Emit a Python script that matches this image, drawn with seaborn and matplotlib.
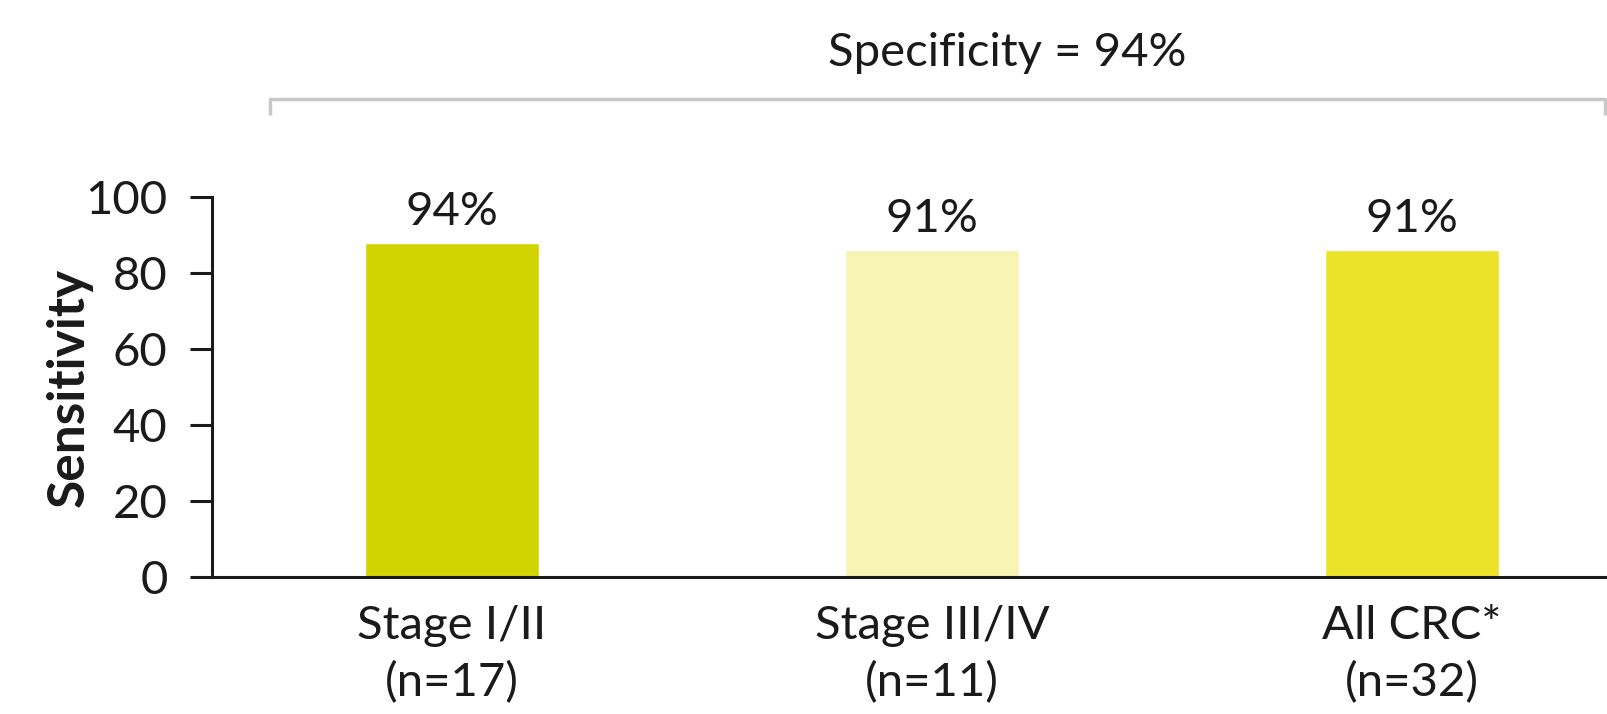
import matplotlib
matplotlib.use("Agg")
import matplotlib.pyplot as plt
from matplotlib.lines import Line2D
import seaborn as sns
import pandas as pd

categories = ["Stage I/II\n(n=17)", "Stage III/IV\n(n=11)", "All CRC*\n(n=32)"]
values = [88, 86, 86]
value_labels = ["94%", "91%", "91%"]
colors = ["#D1D400", "#F7F4B4", "#EBE32A"]
yticks = [0, 20, 40, 60, 80, 100]
title_text = "Specificity = 94%"

sns.set_theme(style="white")
plt.rcParams["font.family"] = ["Lato", "DejaVu Sans"]

FS = 34
df = pd.DataFrame({"cat": categories, "val": values})

fig = plt.figure(figsize=(16.07, 7.14), dpi=100)
ax = fig.add_axes([0.1319, 0.1919, 0.8681, 0.5322])

sns.barplot(data=df, x="cat", y="val", hue="cat", palette=colors,
            width=0.362, legend=False, ax=ax, saturation=1)

ax.set_ylim(0, 100)
ax.set_xlim(-0.5, 2.406)
ax.set_yticks(yticks)
ax.set_yticklabels([str(t) for t in yticks], fontsize=FS, color="#1a1a1a")
ax.tick_params(axis="y", length=16, width=2.2, color="#1a1a1a", pad=16, direction="out", left=True)
ax.tick_params(axis="x", length=0, pad=20, labelsize=FS, labelcolor="#1a1a1a")
for lbl in ax.get_xticklabels():
    lbl.set_linespacing(1.42)

ax.set_xlabel("")
ax.set_ylabel("Sensitivity", fontsize=37, fontweight="bold", color="#1a1a1a", labelpad=-5)

for s in ["top", "right"]:
    ax.spines[s].set_visible(False)
for s in ["left", "bottom"]:
    ax.spines[s].set_color("#1a1a1a")
    ax.spines[s].set_linewidth(2.2)

for p, lab in zip(ax.patches, value_labels):
    ax.annotate(lab, (p.get_x() + p.get_width() / 2, p.get_height()),
                xytext=(0, 7), textcoords="offset points",
                ha="center", va="bottom", fontsize=FS, color="#1a1a1a")

# bracket and title
W, H = 1607, 714
x0, x1 = 270 / W, 1605 / W
yb, yv = 1 - 99 / H, 1 - 115 / H
gray = "#c8c8c8"
fig.add_artist(Line2D([x0, x0, x1, x1], [yv, yb, yb, yv], transform=fig.transFigure,
                      color=gray, linewidth=2.5, solid_capstyle="butt"))
fig.text(1007 / W, 1 - 53 / H, title_text, ha="center", va="center", fontsize=FS, color="#1a1a1a")

fig.savefig("out.png", dpi=100)
